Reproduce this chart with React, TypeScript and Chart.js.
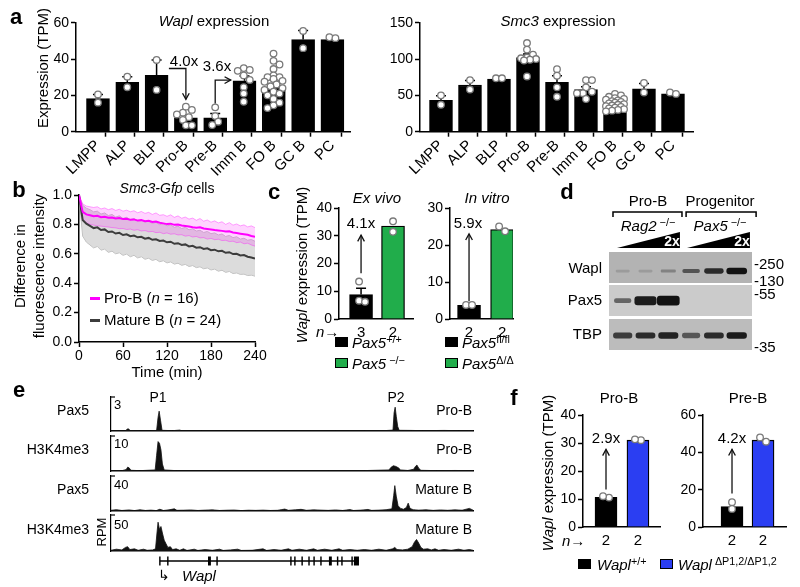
import React, { useEffect, useRef } from "react";
import { Chart, registerables } from "chart.js";
Chart.register(...registerables);

const W = 800, H = 587;
const FONT = "'Liberation Sans', Arial, Helvetica, sans-serif";
Chart.defaults.font.family = FONT;
Chart.defaults.color = "#000";

// ---------------- DATA ----------------
// panel a
const cellTypes = ["LMPP", "ALP", "BLP", "Pro-B", "Pre-B", "Imm B", "FO B", "GC B", "PC"];
const waplMean = [18.3, 27.2, 31, 7.7, 7.7, 28, 24.5, 50.7, 50.7];
const waplSem = [2.2, 3, 8.5, 1.6, 2.3, 2.6, 1.6, 5, 0.8];
const waplPoints = [
  [20.5, 16], [30.3, 24.5], [39.5, 23],
  [13.8, 12, 10.5, 9.5, 8, 6.5, 3.5, 3.5],
  [13.4, 8.6, 5.5, 3.7],
  [35, 34, 33.5, 31, 28.5, 24.5, 21, 16.5],
  [43, 39, 37, 34.5, 31, 30, 30, 29, 28, 27.5, 26, 25, 24, 23, 22, 21, 20, 18, 16, 14.5, 13],
  [55.5, 46], [52, 51.5],
];
const smc3Mean = [43, 64, 72.5, 102, 68, 58, 35.5, 59, 52];
const smc3Sem = [6.5, 6.5, 1, 5, 9, 4, 2, 7.5, 1.5];
const smc3Points = [
  [50, 37], [71, 58], [73.5, 73.5],
  [122, 113, 106, 102, 101, 100, 99, 98, 76],
  [86, 77, 61, 48],
  [71, 71, 61, 55, 53, 53, 45],
  [52, 50, 48, 46, 45, 44, 43, 42, 41, 40, 39, 38, 37, 36, 35, 34, 33, 32, 31, 30, 29, 28],
  [67, 54], [54, 52],
];

// panel b
const timeMin = [0, 5, 10, 15, 20, 25, 30, 35, 40, 45, 50, 55, 60, 65, 70, 75, 80, 85, 90, 95, 100, 105, 110, 115, 120, 125, 130, 135, 140, 145, 150, 155, 160, 165, 170, 175, 180, 185, 190, 195, 200, 205, 210, 215, 220, 225, 230, 235, 240];
const proBMean = [1.0, .885, .868, .862, .855, .858, .849, .852, .845, .847, .840, .843, .836, .838, .831, .834, .826, .829, .822, .824, .816, .819, .811, .807, .802, .805, .797, .799, .792, .789, .786, .781, .778, .781, .772, .769, .766, .762, .759, .756, .751, .753, .745, .741, .737, .733, .729, .721, .716];
const proBUpper = [1.0, .94, .925, .92, .915, .92, .905, .912, .90, .908, .895, .903, .89, .897, .886, .893, .879, .888, .875, .882, .868, .878, .862, .866, .855, .865, .848, .858, .842, .85, .836, .843, .828, .84, .822, .83, .815, .824, .81, .818, .80, .812, .795, .803, .79, .797, .783, .79, .778];
const proBLower = [1.0, .83, .81, .80, .795, .79, .788, .785, .782, .778, .776, .771, .772, .765, .768, .76, .764, .755, .758, .75, .752, .744, .746, .737, .742, .733, .736, .728, .73, .72, .724, .714, .718, .708, .71, .70, .705, .696, .699, .69, .692, .683, .686, .676, .68, .668, .672, .66, .652];
const matBMean = [1.0, .83, .805, .79, .775, .78, .762, .766, .748, .752, .738, .743, .728, .733, .72, .724, .712, .716, .703, .708, .695, .699, .687, .69, .678, .682, .668, .672, .66, .664, .65, .654, .642, .645, .633, .637, .625, .628, .617, .62, .607, .611, .598, .6, .589, .592, .58, .575, .568];
const matBUpper = [1.0, .93, .91, .9, .885, .89, .87, .878, .86, .868, .85, .858, .84, .848, .832, .84, .825, .83, .815, .822, .806, .814, .798, .805, .79, .797, .78, .788, .772, .78, .763, .77, .755, .76, .745, .752, .737, .742, .728, .735, .718, .725, .71, .716, .7, .706, .692, .697, .685];
const matBLower = [1.0, .72, .68, .66, .64, .65, .625, .632, .61, .618, .6, .607, .59, .598, .58, .59, .572, .58, .563, .57, .555, .562, .546, .553, .538, .545, .53, .536, .522, .528, .514, .52, .506, .512, .498, .504, .49, .496, .482, .488, .474, .48, .466, .47, .46, .462, .452, .455, .448];

// panel c
const exVivoN = ["3", "2"];
const exVivoMean = [8.8, 33.5];
const exVivoSem = [2.3, 0];
const exVivoPoints = [[13.5, 6.6, 6.2], [35.2, 31.4]];
const inVitroN = ["2", "2"];
const inVitroMean = [3.7, 24.2];
const inVitroSem = [0, 0];
const inVitroPoints = [[3.8, 3.8], [23.7, 25]];

// panel d (band darkness per lane, 0..1)
const waplBands = [0.15, 0.15, 0.3, 0.6, 0.85, 1.0];
const pax5Bands = [0.55, 0.95, 1.0, 0, 0, 0];
const tbpBands = [0.75, 0.85, 0.9, 0.6, 0.85, 0.95];

// panel e (genomic position in kb, RPM)
const pax5ProB = [[0, 0.02], [2, 0.03], [4, 0.02], [4.4, 0.15], [4.8, 0.2], [5.3, 0.04], [8, 0.03], [11, 0.02], [12.6, 0.05], [13, 1.2], [13.3, 1.75], [13.7, 0.9], [14.1, 0.06], [17, 0.03], [19, 0.08], [19.5, 0.03], [25, 0.03], [32, 0.02], [40, 0.03], [48, 0.02], [55, 0.03], [62, 0.02], [70, 0.03], [76, 0.04], [77.9, 0.08], [78.2, 1.6], [78.5, 2.1], [78.8, 1.3], [79.2, 0.4], [79.6, 0.06], [83, 0.05], [86, 0.03], [92, 0.05], [96, 0.03], [100, 0.04]];
const h3k4ProB = [[0, 0.1], [3, 0.1], [4.2, 0.4], [4.6, 1.1], [5, 0.9], [5.5, 0.2], [8, 0.1], [12.2, 0.3], [12.6, 4.5], [13, 8.4], [13.4, 7.9], [13.8, 6], [14.2, 2], [14.7, 0.3], [18, 0.1], [30, 0.1], [45, 0.1], [60, 0.1], [70, 0.12], [76.8, 0.3], [77.3, 1.0], [78, 1.5], [78.7, 1.3], [79.4, 0.9], [80, 0.3], [82, 0.15], [83.6, 0.5], [84.1, 1.3], [84.5, 1.7], [85, 0.8], [85.6, 0.2], [90, 0.1], [95, 0.15], [100, 0.1]];
const pax5MatB = [[0, 0.8], [1.5, 1.5], [3, 0.6], [5, 1.2], [6.5, 0.5], [8, 1.4], [9.5, 0.6], [11, 1.0], [12.5, 0.5], [13.5, 2.0], [14.5, 0.6], [16, 1.3], [17.5, 2.5], [18.2, 0.8], [20, 0.9], [22, 1.2], [24, 0.6], [26, 1.0], [28, 1.3], [30, 0.6], [32, 0.9], [34, 1.1], [36, 0.5], [38, 0.9], [40, 0.7], [42, 1.0], [44, 0.6], [46, 0.8], [47, 1.5], [48, 2.2], [49, 0.8], [51, 1.4], [52.5, 1.9], [54, 0.8], [56, 1.3], [58, 1.0], [60, 0.7], [62, 1.2], [64, 0.6], [66, 1.6], [67, 0.6], [69, 1.0], [71, 1.8], [72, 0.7], [74, 1.0], [76, 1.5], [77.6, 2.5], [78.1, 18], [78.4, 29], [78.8, 17], [79.3, 6], [80, 3], [80.8, 2], [81.6, 4], [82.1, 9], [82.6, 3], [83.5, 1.5], [85, 1.0], [87, 1.4], [89, 0.7], [91, 1.2], [93, 0.8], [95, 1.3], [97, 0.9], [99, 3], [100, 1.0]];
const h3k4MatB = [[0, 1], [1.5, 2.5], [3, 1.5], [4, 5], [4.6, 6], [5.2, 2], [6.5, 3], [7.5, 1], [9, 2.5], [10, 1], [11.5, 1.5], [12.3, 3], [12.7, 25], [13, 40], [13.4, 30], [13.8, 34], [14.2, 25], [14.7, 15], [15.2, 10], [15.7, 5], [16.4, 6], [17, 2], [18, 3], [19, 1], [20, 3], [21, 0.8], [23, 2.5], [24, 0.8], [26, 2], [28, 1], [30, 2.5], [31, 0.8], [33, 1.5], [35, 2.5], [36, 0.8], [39, 1], [42, 3], [43, 0.8], [45, 2], [47, 1], [49, 3], [50, 1], [52, 2.5], [54, 1], [56, 3], [57, 1], [59, 2.5], [61, 1], [63, 3], [64, 1], [66, 2], [68, 1], [70, 2], [72, 1], [74, 2.5], [76, 1], [77.8, 3], [78.4, 5], [79, 2], [80.5, 1.5], [82, 2.5], [83.2, 6], [83.8, 12], [84.4, 16], [85, 11], [85.6, 5], [86.3, 2.5], [87.5, 3], [88.5, 1.5], [89.5, 3], [90.5, 1], [92, 2], [94, 1], [96, 2.5], [97.5, 1], [99, 2], [100, 1]];
const geneSpan = [13.5, 68.5];
const exonStarts = [13.3, 15.5, 26.8, 29.1, 49.5, 50.6, 52.6, 54.5, 55.9, 57.8, 60.2, 62.4, 63.6, 66.4, 67.1];
const exonEnds = [13.7, 15.9, 27.6, 29.5, 49.9, 51.0, 53.0, 54.9, 56.3, 58.2, 61.0, 62.8, 64.0, 66.8, 68.5];

// panel f
const fN = ["2", "2"];
const fProBMean = [10.6, 31];
const fProBPoints = [[10.5, 11], [31, 31.3]];
const fPreBMean = [11, 46.5];
const fPreBPoints = [[9.7, 13.3], [45.7, 48]];

// ---------------- HELPERS ----------------
const GREEN = "#21ad4b";
const BLUE = "#2b3ef2";
const YW = 50, XH = 60;

function baseOptions(rect: number[], yw = YW, xh = XH) {
  const [l, t, r, b] = rect;
  return {
    responsive: false, animation: false, events: [],
    layout: { padding: { left: l - yw, top: t, right: W - r, bottom: H - b - xh } },
    plugins: { legend: { display: false }, tooltip: { enabled: false }, title: { display: false } },
  };
}
const fitW = (w: number) => (s: any) => { s.width = w; };
const fitH = (h: number) => (s: any) => { s.height = h; };

function yAxis(max: number, step: number, fmt?: (v: number) => string) {
  return {
    type: "linear", min: 0, max, afterFit: fitW(YW),
    ticks: { stepSize: step, font: { size: 14 }, color: "#000", padding: 2, callback: fmt || ((v: any) => String(v)) },
    grid: { drawOnChartArea: false, tickLength: 5, tickWidth: 1.5, tickColor: "#000" },
    border: { color: "#000", width: 1.5 },
  };
}

function swarm(vals: number[], pxY: number, d: number, maxOff: number) {
  const placed: { x: number; y: number }[] = [];
  const out = vals.map(() => 0);
  const cands: number[] = [0];
  for (let k = 1; k * d * 0.5 <= maxOff; k++) { cands.push(k * d * 0.5, -k * d * 0.5); }
  vals.map((v, i) => i).sort((a, b) => vals[b] - vals[a]).forEach((i) => {
    const y = vals[i] * pxY;
    let best = 0, bestDist = -1;
    for (const c of cands) {
      const md = placed.length ? Math.min(...placed.map((p) => Math.hypot(p.x - c, p.y - y))) : Infinity;
      if (md >= d) { best = c; bestDist = md; break; }
      if (md > bestDist) { bestDist = md; best = c; }
    }
    out[i] = best; placed.push({ x: best, y });
  });
  const m = out.reduce((a, c) => a + c, 0) / out.length;
  return out.map((o) => o - m);
}

function drawArrow(ctx: any, P: number[][]) {
  ctx.beginPath();
  ctx.moveTo(P[0][0], P[0][1]);
  for (let i = 1; i < P.length; i++) ctx.lineTo(P[i][0], P[i][1]);
  ctx.stroke();
  const [x1, y1] = P[P.length - 1];
  const [x0, y0] = P[P.length - 2];
  const ang = Math.atan2(y1 - y0, x1 - x0);
  const L = 7, A = 0.5;
  ctx.beginPath();
  ctx.moveTo(x1 - L * Math.cos(ang - A), y1 - L * Math.sin(ang - A));
  ctx.lineTo(x1, y1);
  ctx.lineTo(x1 - L * Math.cos(ang + A), y1 - L * Math.sin(ang + A));
  ctx.stroke();
}

function barChart(s: any) {
  const [l, t, r, b] = s.rect;
  const pxX = (r - l) / (s.xMax - s.xMin);
  const pxY = (b - t) / s.yMax;
  const pts: any[] = [];
  s.points.forEach((vals: number[], i: number) => {
    const off = swarm(vals, pxY, 6, s.barPx / 2 - 1);
    vals.forEach((v, k) => pts.push({ x: i + off[k] / pxX, y: v }));
  });
  const n = s.means.length;
  const tickVals: number[] = [];
  for (let i = 0; i < n; i++) { tickVals.push(i); if (s.halfTicks && i < n - 1) tickVals.push(i + 0.5); }
  if (s.halfTicks) tickVals.push(s.xMax);
  const rot = s.rotate ? 45 : 0;
  return {
    type: "bar",
    data: {
      datasets: [
        { type: "scatter", data: pts, pointRadius: 3.3, pointBackgroundColor: "#fff", pointBorderColor: "#7a7a7a", pointBorderWidth: 1.3, order: 0 },
        { type: "bar", data: s.means.map((m: number, i: number) => ({ x: i, y: m })), backgroundColor: s.colors, borderColor: "#000", borderWidth: 1.3, borderSkipped: "bottom", barThickness: s.barPx, order: 1 },
      ],
    },
    options: {
      ...baseOptions(s.rect),
      scales: {
        x: {
          type: "linear", min: s.xMin, max: s.xMax, offset: false, afterFit: fitH(XH),
          afterBuildTicks: (sc: any) => { sc.ticks = tickVals.map((v) => ({ value: v })); },
          ticks: {
            autoSkip: false, maxRotation: rot, minRotation: rot, font: { size: s.labelSize || 15 }, color: "#000",
            padding: s.rotate ? 0 : 5,
            callback: (v: number) => (Number.isInteger(v) && s.xLabels[v] !== undefined ? s.xLabels[v] : ""),
          },
          grid: {
            drawOnChartArea: false, drawTicks: !!s.halfTicks, tickLength: 5, tickWidth: 1.5,
            tickColor: (c: any) => (c.tick && Number.isInteger(c.tick.value) ? "rgba(0,0,0,0)" : "#000"),
          },
          border: { color: "#000", width: 1.5 },
        },
        y: yAxis(s.yMax, s.yStep),
      },
    },
    plugins: [{
      id: "errArrows",
      afterDatasetDraw(chart: any, args: any) {
        if (args.index !== 1) return;
        const { ctx } = chart;
        const xs = chart.scales.x, ys = chart.scales.y;
        ctx.save();
        ctx.strokeStyle = "#000"; ctx.lineWidth = 1.5;
        s.means.forEach((m: number, i: number) => {
          const e = s.sems[i];
          if (!e) return;
          const x = xs.getPixelForValue(i);
          const y0 = ys.getPixelForValue(m), y1 = ys.getPixelForValue(m + e);
          ctx.beginPath(); ctx.moveTo(x, y0); ctx.lineTo(x, y1);
          ctx.moveTo(x - 5, y1); ctx.lineTo(x + 5, y1); ctx.stroke();
        });
        ctx.restore();
      },
      afterDraw(chart: any) {
        if (!s.arrows) return;
        const { ctx } = chart;
        const xs = chart.scales.x, ys = chart.scales.y;
        ctx.save();
        ctx.strokeStyle = "#111"; ctx.lineWidth = 1.3;
        s.arrows.forEach((a: number[][]) => drawArrow(ctx, a.map(([x, y]) => [xs.getPixelForValue(x), ys.getPixelForValue(y)])));
        ctx.restore();
      },
    }],
  };
}

const aLeft = () => barChart({
  rect: [76, 22.7, 350, 131.7], xMin: -0.75, xMax: 8.6, yMax: 60, yStep: 20, xLabels: cellTypes,
  means: waplMean, sems: waplSem, points: waplPoints, colors: "#000", barPx: 23, rotate: true, halfTicks: true, labelSize: 15,
  arrows: [[[2.42, 34.8], [3, 34.8], [3, 17.8]], [[4, 15.5], [4, 28.4], [4.53, 28.4]]],
});
const aRight = () => barChart({
  rect: [420, 22.7, 693, 131.7], xMin: -0.724, xMax: 8.69, yMax: 150, yStep: 50, xLabels: cellTypes,
  means: smc3Mean, sems: smc3Sem, points: smc3Points, colors: "#000", barPx: 23, rotate: true, halfTicks: true, labelSize: 15,
});
const cLeft = () => barChart({
  rect: [339, 208, 413, 319], xMin: -0.69, xMax: 1.625, yMax: 40, yStep: 10, xLabels: exVivoN,
  means: exVivoMean, sems: exVivoSem, points: exVivoPoints, colors: ["#000", GREEN], barPx: 23,
  arrows: [[[0, 16.5], [0, 30.2]]],
});
const cRight = () => barChart({
  rect: [450, 208, 513, 319], xMin: -0.576, xMax: 1.33, yMax: 30, yStep: 10, xLabels: inVitroN,
  means: inVitroMean, sems: inVitroSem, points: inVitroPoints, colors: ["#000", GREEN], barPx: 23,
  arrows: [[[0, 4.8], [0, 23]]],
});
const fLeft = () => barChart({
  rect: [583, 415, 660, 527], xMin: -0.72, xMax: 1.69, yMax: 40, yStep: 10, xLabels: fN,
  means: fProBMean, sems: [0, 0], points: fProBPoints, colors: ["#000", BLUE], barPx: 22,
  arrows: [[[0, 13.4], [0, 27.7]]],
});
const fRight = () => barChart({
  rect: [703, 415, 786, 527], xMin: -0.935, xMax: 1.74, yMax: 60, yStep: 20, xLabels: fN,
  means: fPreBMean, sems: [0, 0], points: fPreBPoints, colors: ["#000", BLUE], barPx: 22,
  arrows: [[[0, 17.9], [0, 41.6]]],
});

const xy = (arr: number[]) => timeMin.map((t, i) => ({ x: t, y: arr[i] }));
const bChart = () => ({
  type: "line",
  data: {
    datasets: [
      { data: xy(proBMean), borderColor: "#ff00ff", borderWidth: 2, pointRadius: 0, fill: false },
      { data: xy(matBMean), borderColor: "#3c3c3c", borderWidth: 2, pointRadius: 0, fill: false },
      { data: xy(proBUpper), borderColor: "rgba(255,0,255,0.35)", borderWidth: 1, pointRadius: 0, fill: "+1", backgroundColor: "rgba(255,0,255,0.17)" },
      { data: xy(proBLower), borderColor: "rgba(255,0,255,0.35)", borderWidth: 1, pointRadius: 0, fill: false },
      { data: xy(matBUpper), borderColor: "#c4c4c4", borderWidth: 1, pointRadius: 0, fill: "+1", backgroundColor: "rgba(205,205,205,0.7)" },
      { data: xy(matBLower), borderColor: "#bcbcbc", borderWidth: 1, pointRadius: 0, fill: false },
    ],
  },
  options: {
    ...baseOptions([79, 195, 255, 342]),
    scales: {
      x: {
        type: "linear", min: 0, max: 240, afterFit: fitH(XH),
        ticks: { stepSize: 60, font: { size: 14 }, color: "#000", padding: 1 },
        grid: { drawOnChartArea: false, tickLength: 5, tickWidth: 1.5, tickColor: "#000" },
        border: { color: "#000", width: 1.5 },
      },
      y: yAxis(1, 0.2, (v: number) => v.toFixed(1)),
    },
  },
});

// blot
const blotRows = [
  { vals: waplBands, box: [2, 33], c: 21, bg: "#b3b3b3", th: (v: number) => 2 + 4 * v * v, w: (v: number) => 12 + 8 * v },
  { vals: pax5Bands, box: [35, 66], c: 50.7, bg: "#cbcbcb", th: (v: number) => 2 + 7 * v * v, w: (v: number) => 10 + 12 * v },
  { vals: tbpBands, box: [69, 100], c: 85.5, bg: "#bcbcbc", th: (v: number) => 3 + 3 * v, w: (v: number) => 14 + 6 * v },
];
const dBlot = () => {
  const datasets: any[] = [];
  blotRows.forEach((row) => row.vals.forEach((v, i) => {
    if (v <= 0) return;
    const th = row.th(v);
    datasets.push({
      data: [{ x: i + 1, y: [row.c - th / 2, row.c + th / 2] }],
      backgroundColor: `rgba(18,18,18,${Math.min(1, v)})`, maxBarThickness: row.w(v), barPercentage: 1, categoryPercentage: 1,
      borderRadius: 3, borderSkipped: false, grouped: false,
    });
  }));
  return {
    type: "bar",
    data: { datasets },
    options: {
      ...baseOptions([609, 250, 752, 350], 0, 0),
      scales: {
        x: { type: "linear", min: 0.4, max: 6.67, offset: false, display: false },
        y: { type: "linear", min: 0, max: 100, reverse: true, display: false },
      },
    },
    plugins: [{
      id: "blot",
      beforeDatasetsDraw(chart: any) {
        const { ctx, chartArea } = chart; const ys = chart.scales.y;
        ctx.save();
        blotRows.forEach((row) => {
          const y0 = ys.getPixelForValue(row.box[0]), y1 = ys.getPixelForValue(row.box[1]);
          ctx.fillStyle = row.bg; ctx.fillRect(chartArea.left, y0, chartArea.right - chartArea.left, y1 - y0);
        });
        ctx.restore();
      },
      afterDraw(chart: any) {
        const { ctx } = chart; const xs = chart.scales.x, ys = chart.scales.y;
        const X = (v: number) => xs.getPixelForValue(v), Y = (v: number) => ys.getPixelForValue(v);
        ctx.save();
        ctx.strokeStyle = "#000"; ctx.lineWidth = 1.5;
        [[0.575, 3.6], [3.78, 6.85]].forEach(([a, b]) => {
          ctx.beginPath(); ctx.moveTo(X(a), Y(-33)); ctx.lineTo(X(a), Y(-38)); ctx.lineTo(X(b), Y(-38)); ctx.lineTo(X(b), Y(-33)); ctx.stroke();
        });
        ctx.fillStyle = "#000";
        [[0.75, 3.51], [3.82, 6.58]].forEach(([a, b]) => {
          ctx.beginPath(); ctx.moveTo(X(a), Y(-2)); ctx.lineTo(X(b), Y(-2)); ctx.lineTo(X(b), Y(-18)); ctx.closePath(); ctx.fill();
        });
        ctx.restore();
      },
    }],
  };
};

// tracks
const trackChart = (pts: number[][], ymax: number, rect: number[]) => () => ({
  type: "line",
  data: { datasets: [{ data: pts.map(([x, y]) => ({ x, y })), borderColor: "#111", borderWidth: 0.8, backgroundColor: "#111", fill: "origin", pointRadius: 0, tension: 0 }] },
  options: {
    ...baseOptions(rect, 0, 0),
    scales: {
      x: { type: "linear", min: 0, max: 100, afterFit: fitH(0), ticks: { display: false }, grid: { display: false }, border: { display: true, color: "#000", width: 1.6 } },
      y: { type: "linear", min: 0, max: ymax, afterFit: fitW(0), ticks: { display: false }, grid: { display: false }, border: { display: true, color: "#000", width: 1.2 } },
    },
  },
  plugins: [{
    id: "bracket",
    afterDraw(chart: any) {
      const { ctx, chartArea } = chart;
      ctx.save(); ctx.strokeStyle = "#000"; ctx.lineWidth = 1.2;
      ctx.beginPath(); ctx.moveTo(chartArea.left - 0.6, chartArea.top); ctx.lineTo(chartArea.left + 4, chartArea.top); ctx.stroke();
      ctx.restore();
    },
  }],
});
const eT1 = trackChart(pax5ProB, 3, [111, 397, 473, 431]);
const eT2 = trackChart(h3k4ProB, 10, [111, 436, 473, 471]);
const eT3 = trackChart(pax5MatB, 40, [111, 476, 473, 511]);
const eT4 = trackChart(h3k4MatB, 50, [111, 515, 473, 551]);
const eGene = () => ({
  type: "bar",
  data: {
    datasets: [
      { data: [{ x: geneSpan, y: 0 }], backgroundColor: "#000", maxBarThickness: 1.6, grouped: false, borderSkipped: false },
      { data: exonStarts.map((s, i) => ({ x: [s, exonEnds[i]], y: 0 })), backgroundColor: "#000", maxBarThickness: 9, grouped: false, borderSkipped: false },
    ],
  },
  options: {
    ...baseOptions([111, 553, 473, 569], 0, 0),
    indexAxis: "y",
    scales: {
      x: { type: "linear", min: 0, max: 100, offset: false, display: false },
      y: { type: "linear", min: -1, max: 1, offset: false, display: false },
    },
  },
});

const layers = [aLeft, aRight, bChart, cLeft, cRight, dBlot, eT1, eT2, eT3, eT4, eGene, fLeft, fRight];

// ---------------- COMPONENTS ----------------
function Layer({ build }: { build: () => any }) {
  const ref = useRef<HTMLCanvasElement>(null);
  useEffect(() => {
    const ch = new Chart(ref.current as HTMLCanvasElement, build());
    return () => ch.destroy();
  }, []);
  return <canvas ref={ref} width={W} height={H} style={{ position: "absolute", left: 0, top: 0, width: W, height: H }} />;
}

function Tx(p: { x: number; y: number; a?: string; s?: number; rot?: number; b?: boolean; it?: boolean; c?: string; children: any }) {
  const { x, y, a = "c", s = 15, rot = 0, b = false, it = false, c = "#000", children } = p;
  const tx = a === "l" ? "0%" : a === "r" ? "-100%" : "-50%";
  return (
    <div style={{
      position: "absolute", left: x, top: y, transform: `translate(${tx},-50%)${rot ? ` rotate(${rot}deg)` : ""}`,
      whiteSpace: "nowrap", fontSize: s, lineHeight: 1.15, fontWeight: b ? 700 : 400, fontStyle: it ? "italic" : "normal",
      color: c, fontFamily: FONT,
    }}>{children}</div>
  );
}
const Sup = ({ children }: any) => <span style={{ fontSize: "0.72em", verticalAlign: "0.5em", fontStyle: "normal" }}>{children}</span>;
const Sq = ({ x, y, color }: any) => <div style={{ position: "absolute", left: x, top: y, width: 13, height: 10, background: color, border: "1px solid #000", boxSizing: "border-box" }} />;
const Ln = ({ x, y, color }: any) => <div style={{ position: "absolute", left: x, top: y, width: 10, height: 2.5, background: color }} />;

export default function App() {
  useEffect(() => { document.body.style.margin = "0"; }, []);
  return (
    <div style={{ position: "absolute", left: 0, top: 0, width: W, height: H, background: "#fff", overflow: "hidden", fontFamily: FONT }}>
      {layers.map((b, i) => <Layer key={i} build={b} />)}

      {/* panel letters */}
      <Tx x={16} y={17} s={22} b>a</Tx>
      <Tx x={19} y={190} s={22} b>b</Tx>
      <Tx x={274} y={192} s={22} b>c</Tx>
      <Tx x={567} y={192} s={22} b>d</Tx>
      <Tx x={19} y={390} s={22} b>e</Tx>
      <Tx x={514} y={398} s={22} b>f</Tx>

      {/* a */}
      <Tx x={43} y={68} rot={-90} s={15}>Expression (TPM)</Tx>
      <Tx x={214} y={21}><i>Wapl</i> expression</Tx>
      <Tx x={558} y={21}><i>Smc3</i> expression</Tx>
      <Tx x={184} y={61} s={15}>4.0x</Tx>
      <Tx x={217} y={66} s={15}>3.6x</Tx>

      {/* b */}
      <Tx x={167} y={188} s={14}><i>Smc3-Gfp</i> cells</Tx>
      <Tx x={20} y={266} rot={-90} s={15}>Difference in</Tx>
      <Tx x={39} y={266} rot={-90} s={15}>fluorescence intensity</Tx>
      <Tx x={167} y={372} s={15}>Time (min)</Tx>
      <Ln x={90} y={297} color="#ff00ff" />
      <Tx x={104} y={298} a="l" s={15}>Pro-B (<i>n</i> = 16)</Tx>
      <Ln x={90} y={319} color="#3c3c3c" />
      <Tx x={104} y={320} a="l" s={15}>Mature B (<i>n</i> = 24)</Tx>

      {/* c */}
      <Tx x={302} y={265} rot={-90} s={15}><i>Wapl</i> expression (TPM)</Tx>
      <Tx x={377} y={198} it>Ex vivo</Tx>
      <Tx x={487} y={198} it>In vitro</Tx>
      <Tx x={361} y={223}>4.1x</Tx>
      <Tx x={468} y={223}>5.9x</Tx>
      <Tx x={316} y={332} a="l"><i>n</i>→</Tx>
      <Sq x={335} y={337} color="#000" />
      <Tx x={352} y={342} a="l"><i>Pax5</i><Sup>+/+</Sup></Tx>
      <Sq x={335} y={358} color={GREEN} />
      <Tx x={352} y={363} a="l"><i>Pax5</i><Sup> −/−</Sup></Tx>
      <Sq x={445} y={337} color="#000" />
      <Tx x={462} y={342} a="l"><i>Pax5</i><Sup>fl/fl</Sup></Tx>
      <Sq x={445} y={358} color={GREEN} />
      <Tx x={462} y={363} a="l"><i>Pax5</i><Sup>Δ/Δ</Sup></Tx>

      {/* d */}
      <Tx x={648} y={201}>Pro-B</Tx>
      <Tx x={720} y={201}>Progenitor</Tx>
      <Tx x={648} y={225}><i>Rag2</i><Sup> −/−</Sup></Tx>
      <Tx x={720} y={225}><i>Pax5</i><Sup> −/−</Sup></Tx>
      <Tx x={672} y={241} s={14} b c="#fff">2x</Tx>
      <Tx x={742} y={241} s={14} b c="#fff">2x</Tx>
      <Tx x={602} y={268} a="r">Wapl</Tx>
      <Tx x={602} y={300} a="r">Pax5</Tx>
      <Tx x={602} y={334} a="r">TBP</Tx>
      <Tx x={754} y={264} a="l">-250</Tx>
      <Tx x={754} y={281} a="l">-130</Tx>
      <Tx x={754} y={294} a="l">-55</Tx>
      <Tx x={754} y={347} a="l">-35</Tx>

      {/* e */}
      <Tx x={158} y={397} s={14}>P1</Tx>
      <Tx x={396} y={397} s={14}>P2</Tx>
      <Tx x={89} y={410} a="r" s={14}>Pax5</Tx>
      <Tx x={89} y={449} a="r" s={14}>H3K4me3</Tx>
      <Tx x={89} y={489} a="r" s={14}>Pax5</Tx>
      <Tx x={89} y={529} a="r" s={14}>H3K4me3</Tx>
      <Tx x={114} y={405} a="l" s={13}>3</Tx>
      <Tx x={114} y={444} a="l" s={13}>10</Tx>
      <Tx x={114} y={485} a="l" s={13}>40</Tx>
      <Tx x={114} y={525} a="l" s={13}>50</Tx>
      <Tx x={472} y={410} a="r" s={14}>Pro-B</Tx>
      <Tx x={472} y={449} a="r" s={14}>Pro-B</Tx>
      <Tx x={472} y={489} a="r" s={14}>Mature B</Tx>
      <Tx x={472} y={529} a="r" s={14}>Mature B</Tx>
      <Tx x={102} y={532} rot={-90} s={13}>RPM</Tx>
      <Tx x={164} y={575} s={14}>↳</Tx>
      <Tx x={182} y={576} a="l" it>Wapl</Tx>

      {/* f */}
      <Tx x={548} y={473} rot={-90}><i>Wapl</i> expression (TPM)</Tx>
      <Tx x={619} y={398}>Pro-B</Tx>
      <Tx x={748} y={398}>Pre-B</Tx>
      <Tx x={606} y={438}>2.9x</Tx>
      <Tx x={732} y={438}>4.2x</Tx>
      <Tx x={562} y={541} a="l"><i>n</i>→</Tx>
      <Sq x={578} y={559} color="#000" />
      <Tx x={597} y={564} a="l"><i>Wapl</i><Sup>+/+</Sup></Tx>
      <Sq x={660} y={559} color={BLUE} />
      <Tx x={678} y={564} a="l"><i>Wapl</i><Sup> ΔP1,2/ΔP1,2</Sup></Tx>
    </div>
  );
}
